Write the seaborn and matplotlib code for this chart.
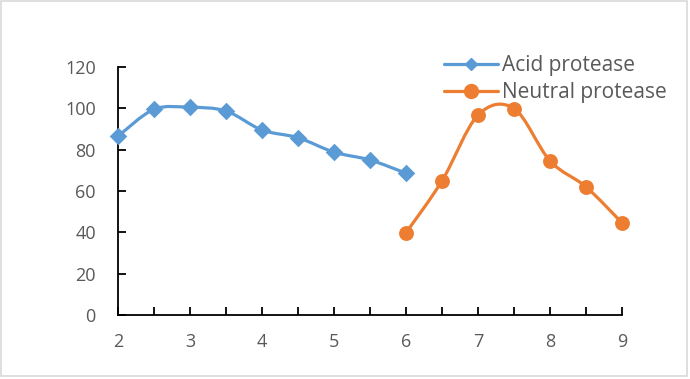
import numpy as np
import pandas as pd
import matplotlib
matplotlib.use("Agg")
import matplotlib.pyplot as plt
from matplotlib.path import Path
from matplotlib.patches import PathPatch, Rectangle
from matplotlib.lines import Line2D
import seaborn as sns

# ---- data ----
acid_ph = [2, 2.5, 3, 3.5, 4, 4.5, 5, 5.5, 6]
acid_val = [86.5, 99.5, 100.5, 98.7, 89.5, 85.8, 78.8, 75, 68.6]
neutral_ph = [6, 6.5, 7, 7.5, 8, 8.5, 9]
neutral_val = [39.8, 64.9, 96.7, 99.9, 74.6, 62, 44.6]
series_names = ["Acid protease", "Neutral protease"]
x_ticks = [2, 3, 4, 5, 6, 7, 8, 9]
y_ticks = [0, 20, 40, 60, 80, 100, 120]

colors = ["#5B9BD5", "#ED7D31"]
markers = ["D", "o"]

sns.set_style("white")
plt.rcParams["font.family"] = ["Open Sans", "DejaVu Sans"]

fig = plt.figure(figsize=(6.9, 3.79), dpi=100)
ax = fig.add_axes([118 / 690, 1 - 315 / 379, (622 - 118) / 690, (315 - 67) / 379])

df = pd.concat([
    pd.DataFrame({"pH": acid_ph, "value": acid_val, "series": series_names[0]}),
    pd.DataFrame({"pH": neutral_ph, "value": neutral_val, "series": series_names[1]}),
])


def smooth_path(xs, ys):
    pts = np.column_stack([xs, ys]).astype(float)
    n = len(pts)
    verts = [pts[0]]
    codes = [Path.MOVETO]
    for i in range(n - 1):
        p0 = pts[i - 1] if i > 0 else pts[i]
        p1 = pts[i]
        p2 = pts[i + 1]
        p3 = pts[i + 2] if i + 2 < n else pts[i + 1]
        c1 = p1 + (p2 - p0) / 6.0
        c2 = p2 - (p3 - p1) / 6.0
        verts += [c1, c2, p2]
        codes += [Path.CURVE4] * 3
    return Path(verts, codes)


for (xs, ys), c in zip([(acid_ph, acid_val), (neutral_ph, neutral_val)], colors):
    ax.add_patch(PathPatch(smooth_path(xs, ys), facecolor="none", edgecolor=c,
                           lw=2.3, zorder=2, capstyle="round", joinstyle="round",
                           clip_on=False))

for name, c, m, s in zip(series_names, colors, markers, [80, 115]):
    sub = df[df["series"] == name]
    sns.scatterplot(data=sub, x="pH", y="value", color=c, marker=m, s=s,
                    edgecolor=c, linewidth=0, ax=ax, zorder=3, legend=False,
                    clip_on=False)

ax.set_xlim(2, 9)
ax.set_ylim(0, 120)
ax.set_xticks(x_ticks)
ax.set_xticks(np.arange(2.5, 9, 1.0), minor=True)
ax.set_yticks(y_ticks)
ax.set_xlabel("")
ax.set_ylabel("")

for side in ["top", "right"]:
    ax.spines[side].set_visible(False)
for side in ["left", "bottom"]:
    ax.spines[side].set_color("black")
    ax.spines[side].set_linewidth(1.3)

ax.tick_params(axis="both", which="both", direction="in", length=6, width=1.3,
               color="black", labelcolor="#595959", labelsize=13)
ax.tick_params(axis="x", which="both", bottom=True, pad=13)
ax.tick_params(axis="y", which="both", left=True, pad=16)
ax.tick_params(axis="x", which="minor", labelbottom=False)

handles = [Line2D([0], [0], color=c, lw=2.3, marker=m, markersize=ms)
           for c, m, ms in zip(colors, markers, [6, 10])]
leg = ax.legend(handles, series_names, loc="upper left",
                bbox_to_anchor=(444 / 690, 1 - 55 / 379), bbox_transform=fig.transFigure,
                frameon=False, fontsize=15, labelcolor="#595959",
                handlelength=2.6, handletextpad=0.2, labelspacing=0.3,
                borderpad=0, borderaxespad=0)

fig.patches.append(Rectangle((0.5 / 690, 1 - 376 / 379), 686 / 690, 375 / 379,
                             transform=fig.transFigure, fill=False,
                             edgecolor="#D9D9D9", lw=1.2))

fig.savefig("out.png", dpi=100, facecolor="white")
